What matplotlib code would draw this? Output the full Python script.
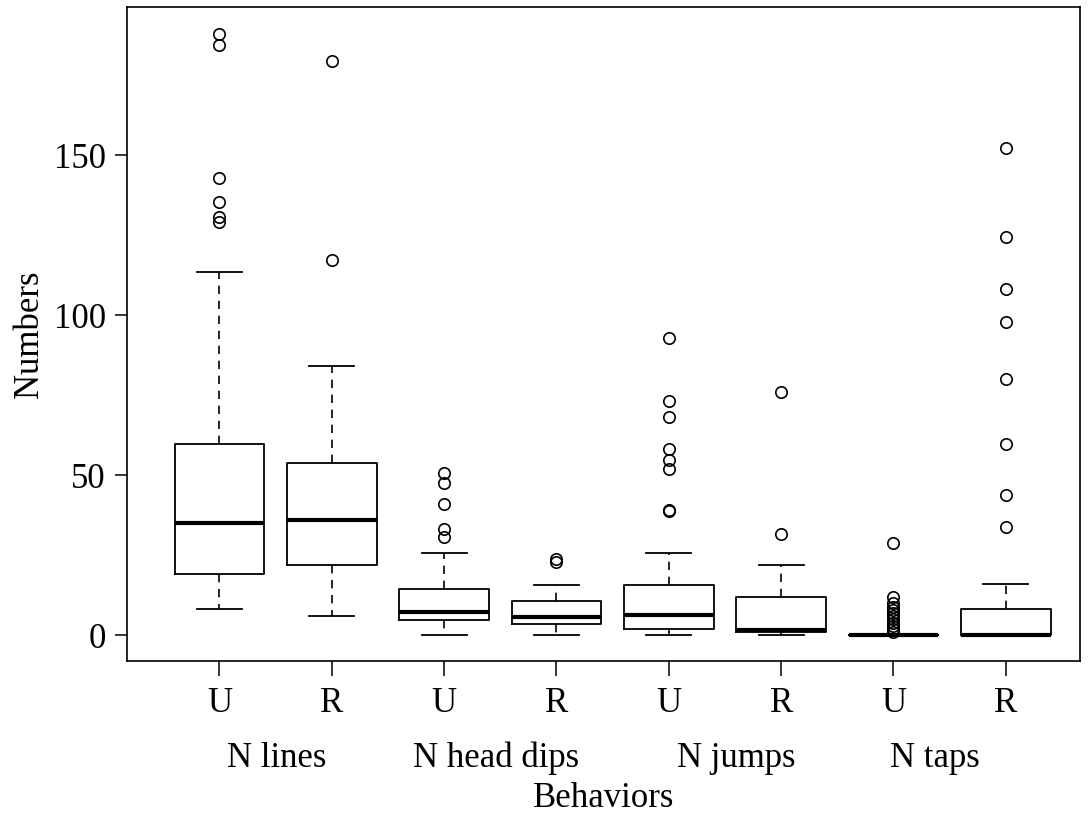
import matplotlib
matplotlib.use("Agg")
import matplotlib.pyplot as plt

# Fuente tipo Times, como en la figura original
plt.rcParams['font.family'] = ['Liberation Serif', 'DejaVu Serif']

# Estadisticos de cada caja (U y R por conducta)
grupos = ['U', 'R', 'U', 'R', 'U', 'R', 'U', 'R']
conductas = ['N lines', 'N head dips', 'N jumps', 'N taps']
bigote_inf = [8.4, 6.0, 0, 0, 0, 0, 0, 0]
q1 = [19.2, 22.0, 4.8, 3.7, 2.0, 1.0, 0, 0]
mediana = [35.0, 36.0, 7.3, 5.8, 6.3, 1.8, 0, 0]
q3 = [59.8, 53.9, 14.6, 10.8, 15.8, 12.1, 0, 8.4]
bigote_sup = [113.5, 84.0, 25.8, 15.8, 25.8, 22.0, 0, 15.9]
atipicos = [
    [188, 184.5, 143, 135.3, 130.6, 129.2],
    [179.4, 117.2],
    [50.7, 47.6, 41.1, 33.2, 30.8],
    [24, 23],
    [92.8, 73.2, 68.2, 58.2, 54.8, 52.1, 39.3, 39],
    [75.9, 31.6],
    [29, 12, 10, 9, 8, 7, 6, 5, 4, 3, 2, 1],
    [152.4, 124.3, 108.2, 97.8, 80.1, 59.9, 43.7, 33.9],
]
# Posicion horizontal de cada nombre de conducta (como en la figura)
pos_conductas = [1.51, 3.46, 5.60, 7.37]

# Armo los diccionarios que necesita bxp
stats = []
for i in range(len(grupos)):
    stats.append({
        'whislo': bigote_inf[i], 'q1': q1[i], 'med': mediana[i],
        'q3': q3[i], 'whishi': bigote_sup[i], 'fliers': atipicos[i],
    })

fig = plt.figure(figsize=(10.89, 8.27), dpi=100)
ax = fig.add_axes([0.1163, 0.2011, 0.9917 - 0.1163, 0.9912 - 0.2011])

posiciones = list(range(1, len(grupos) + 1))
ax.bxp(stats, positions=posiciones, widths=0.8, showfliers=True,
       boxprops=dict(color='black', linewidth=1.3),
       medianprops=dict(color='black', linewidth=3.0, solid_capstyle='butt'),
       whiskerprops=dict(color='black', linewidth=1.2, linestyle=(0, (5, 4))),
       capprops=dict(color='black', linewidth=1.3),
       flierprops=dict(marker='o', markerfacecolor='none', markeredgecolor='black',
                       markersize=8.2, markeredgewidth=1.2, linestyle='none'))

ax.set_xlim(0.174, 8.66)
ax.set_ylim(-7.9, 196.2)
ax.set_yticks([0, 50, 100, 150])
ax.set_xticks(posiciones)
ax.set_xticklabels(grupos)
for s in ax.spines.values():
    s.set_linewidth(1.2)
ax.tick_params(axis='both', labelsize=25, direction='out', width=1.1)
ax.tick_params(axis='x', length=11, pad=8)
ax.tick_params(axis='y', length=9, pad=6)

# Nombres de las conductas debajo de los pares U/R
for x, nombre in zip(pos_conductas, conductas):
    ax.text(x, -0.149, nombre, transform=ax.get_xaxis_transform(),
            ha='center', va='center', fontsize=25)

ax.text(0.5, -0.2105, 'Behaviors', transform=ax.transAxes,
        ha='center', va='center', fontsize=25)
ax.text(-0.1015, 0.5, 'Numbers', transform=ax.transAxes, rotation=90,
        ha='center', va='center', fontsize=25)

fig.savefig('out.png', dpi=100)
